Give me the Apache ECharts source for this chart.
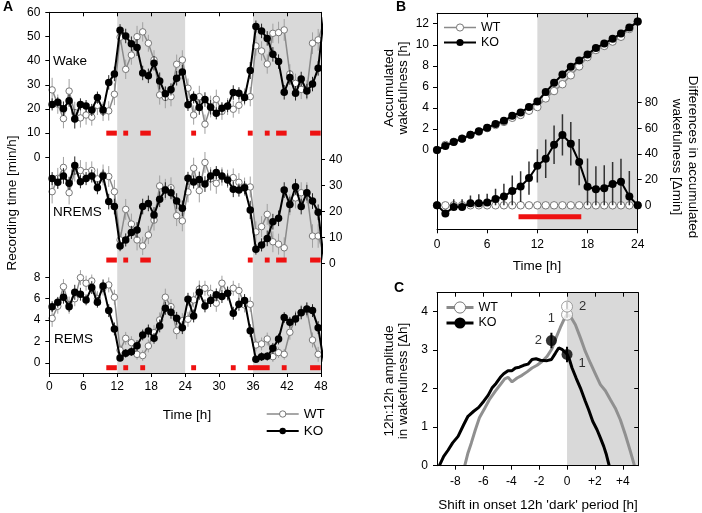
<!DOCTYPE html>
<html><head><meta charset="utf-8">
<script src="https://cdn.jsdelivr.net/npm/echarts@6/dist/echarts.min.js"></script>
<style>html,body{margin:0;padding:0;background:#fff}#c{width:702px;height:513px}</style>
</head><body><div id="c"></div>
<script>
// ---------- DATA ----------
// Panel A: hourly bins (bin centres), last bin lies beyond the 48 h edge
const hoursA = [0.5,1.5,2.5,3.5,4.5,5.5,6.5,7.5,8.5,9.5,10.5,11.5,12.5,13.5,14.5,15.5,16.5,17.5,18.5,19.5,20.5,21.5,22.5,23.5,24.5,25.5,26.5,27.5,28.5,29.5,30.5,31.5,32.5,33.5,34.5,35.5,36.5,37.5,38.5,39.5,40.5,41.5,42.5,43.5,44.5,45.5,46.5,47.5,48.5];
const wakeKO = [21.9,22.8,20.1,23.4,15.9,21.9,21.2,19.6,24.7,19.6,31.0,34.5,52.6,50.2,47.0,45.4,34.9,33.7,38.9,31.6,26.3,28.1,32.7,35.3,21.7,24.8,20.6,23.9,20.7,18.2,20.3,21.2,26.8,26.5,24.7,35.9,54.1,52.3,49.2,42.6,39.6,26.9,33.0,26.5,32.4,27.4,30.3,36.8,58];
const wakeWT = [27.9,22,16,27.4,18.5,16.3,17.5,16.6,21.5,19,19.2,26.1,49.7,36.4,42.3,49.9,51.9,47.2,40.3,25.8,24.8,25.1,38.5,40.3,28.6,17.5,25.1,13.7,21,24,19,21,19.9,21.5,25,25.1,46.1,44.0,38.6,51.3,51.6,52.7,34.5,30.6,28.1,27.9,47.2,48.6,56];
const nremKO = [32.6,31.2,33.6,30.8,37.6,31.4,32.6,33.6,29.1,33.6,23.8,21.9,6.8,9.1,12.0,12.9,21.9,23.1,18.7,24.7,28.2,27.2,24.0,21.2,32.7,31.3,32.3,30.5,33.6,34.9,33.6,32.1,28.5,28.2,29.1,20.6,5.5,7.2,9.7,16.1,17.4,28.2,22.7,29.5,21.9,27.2,24.0,19.7,1.5];
const nremWT = [27.6,32.7,36.9,27.2,35.5,35.7,35,35.7,32.5,34,33.4,27.6,9.1,20.8,15.2,9.1,6.8,11,16.7,29.8,28.5,29.1,18.4,16.4,27.5,36.6,28,38.8,32.5,30.8,33.4,32.5,33,31.2,29.5,29.4,12.2,14.2,18.9,8.4,7.5,6.1,22.6,25.2,27.2,27.2,10.6,10.6,3.5];
const remKO = [5.26,5.67,6.14,5.26,6.6,6.42,5.89,7.04,5.67,7.2,4.89,3.18,0.47,0.9,1.06,1.62,2.62,2.99,2.3,3.46,5.1,4.73,4.17,3.3,5.95,4.39,6.6,5.33,5.83,6.36,6.2,6.51,4.64,5.48,5.83,3.02,0.34,0.59,0.62,1.37,2.24,4.24,3.8,4.11,4.7,5.05,4.89,3.3,0.1];
const remWT = [4.17,5.3,7.13,5.4,6,7.97,7.45,7.66,6,7,7.29,6.14,1.2,2.3,1.9,0.81,0.69,1.59,2.83,4.02,6.14,5.26,3.02,3.95,4.08,5.89,6.9,6.98,6.51,5.58,7.45,6.5,6.98,6.76,5.42,5.48,1.68,1.78,2.24,0.59,0.97,0.81,2.87,4.17,4.73,4.95,2.15,0.81,0.5];
const errWakeKO = [2.5,2,3,2.5,4,2.5,2.5,2.5,2.5,2.5,3,3,2.5,3,3,3.5,3,3,3,3.5,3,2.5,3,3,2.5,2.5,3,3,3,2.5,2.5,2.5,3,2.5,2.5,3.5,2.5,3,3,3,3,3,3,3,3,3,3,3,3];
const errWakeWT = [5,4,4,5,4.5,4,4,3.5,4,4,4,4.5,3,4,4,4.5,4,3.5,4,4,4.5,4,4,4,4,4,4.5,4,4.5,4,3.5,3.5,3.5,3.5,3.5,4,4,4,4,4,4.5,4.5,4,4,4,4,4.5,4.5,4.5];
const errNremKO = [2.5,2.5,3,2.5,3.5,2.5,2.5,2.5,2.5,2.5,3,3,2,2.5,2.5,3,3,3,3,3,3,2.5,3,3,2.5,2.5,3,3,2.5,2.5,2.5,2.5,3,2.5,2.5,3.5,2,2.5,3,3,3,3,3,3,3,3,3,3,3];
const errNremWT = [4.5,4,4,4.5,4,4,4,3.5,4,4,4,4.5,3,4,4,4,3.5,3.5,4,4,4,4,4,4,4,4,4.5,4,4.5,4,3.5,3.5,3.5,3.5,3.5,4,4,4,4,4,4,4,4,4,4,4,4.5,4.5,4.5];
const errRemKO = [0.5,0.5,0.6,0.5,0.7,0.6,0.5,0.6,0.5,0.6,0.6,0.6,0.3,0.4,0.4,0.5,0.5,0.6,0.5,0.6,0.6,0.6,0.6,0.6,0.6,0.6,0.7,0.6,0.6,0.6,0.6,0.6,0.6,0.6,0.6,0.6,0.3,0.4,0.4,0.5,0.5,0.5,0.5,0.6,0.6,0.6,0.6,0.6,0.6];
const errRemWT = [0.8,0.7,0.7,0.8,0.7,0.7,0.7,0.6,0.7,0.7,0.7,0.7,0.5,0.6,0.6,0.5,0.5,0.6,0.7,0.7,0.8,0.7,0.8,0.7,0.7,0.7,0.8,0.7,0.8,0.8,0.7,0.7,0.7,0.7,0.7,0.7,0.6,0.6,0.6,0.5,0.5,0.5,0.7,0.7,0.7,0.7,0.7,0.7,0.7];
// significance bars [start h, end h]
const sigWake = [[10,12],[13,14],[16,18],[25,26],[35,36],[38,39],[40,42],[46,48]];
const sigNrem = [[10,12],[13,14],[16,18],[35,36],[38,39],[40,42],[46,48]];
const sigRem  = [[10,12],[13,14],[16,17],[25,26],[32,33],[35,39],[41,42],[46,48]];
const sigLevelWake = 10, sigLevelNrem = 1.4, sigLevelRem = -0.44;
const darkA = [[12,24],[36,48]];

// Panel B
const hoursB = [0,1,2,3,4,5,6,7,8,9,10,11,12,13,14,15,16,17,18,19,20,21,22,23,24];
const accKO = [0,0.38,0.76,1.07,1.45,1.77,2.12,2.46,2.78,3.25,3.57,4.08,4.61,5.50,6.38,7.17,7.90,8.50,9.07,9.70,10.11,10.58,11.06,11.63,12.2];
const accWT = [0,0.48,0.78,1.09,1.42,1.74,2.08,2.38,2.67,3.06,3.33,3.73,4.08,4.9,5.6,6.25,7.1,7.94,8.83,9.5,9.89,10.3,10.76,11.5,12.2];
const diffKO = [0,-6.3,-1.3,-1.3,1.6,1.6,2.1,5,6.8,11.2,14.6,21.2,30.8,36.3,47.3,54.9,48,33.7,14.4,12.5,13.3,16.7,18.3,6.8,0];
const diffErrKO = [0,5,6,6,6,7,7,8,10,12,12,13,13,15,15,16,17,18,22,18,18,17,18,20,0];
const diffWT = [0,0,0,0,0,0,0,0,0,0,0,0,0,0,0,0,0,0,0,0,0,0,0,0,0];
const sigB = [[9.7,17.3]];
const sigLevelB = -9;
const darkB = [[12,24]];

// Panel C: [shift h, amplitude Δh]
const curveKO = [[-9.15,0],[-8.84,0.24],[-8.53,0.40],[-8.20,0.59],[-7.81,0.76],[-7.41,1.06],[-7.10,1.28],[-6.69,1.41],[-6.33,1.51],[-5.97,1.67],[-5.66,1.82],[-5.38,2.01],[-5.09,2.13],[-4.78,2.29],[-4.54,2.38],[-4.23,2.46],[-3.94,2.46],[-3.70,2.53],[-3.42,2.55],[-3.11,2.60],[-2.80,2.63],[-2.51,2.75],[-2.22,2.77],[-1.91,2.73],[-1.43,2.72],[-1.12,2.75],[-0.84,2.91],[-0.60,3.05],[-0.36,3.01],[-0.17,2.95],[0,2.89],[0.17,2.75],[0.36,2.53],[0.65,2.27],[0.96,2.01],[1.31,1.67],[1.55,1.45],[1.84,1.15],[2.15,0.93],[2.39,0.72],[2.63,0.50],[2.80,0.31],[3.02,0]];
const curveWT = [[-7.33,0],[-7.10,0.33],[-6.86,0.59],[-6.57,0.93],[-6.28,1.24],[-5.90,1.49],[-5.57,1.71],[-5.14,1.93],[-4.78,2.10],[-4.47,2.25],[-4.23,2.29],[-3.94,2.17],[-3.58,2.27],[-3.23,2.34],[-2.87,2.43],[-2.51,2.53],[-2.15,2.60],[-1.79,2.70],[-1.43,2.83],[-1.08,3.03],[-0.79,3.31],[-0.48,3.58],[-0.19,3.81],[0,3.91],[0.24,3.87],[0.60,3.65],[0.96,3.31],[1.31,2.96],[1.67,2.66],[2.03,2.38],[2.39,2.10],[2.75,1.94],[3.11,1.71],[3.46,1.49],[3.82,1.19],[4.18,0.80],[4.54,0.37],[4.83,0]];
const ptsWT = [[0,3.91],[0,4.12]], ptsWTerr = [0.08,0.12], ptsWTlab = ['1','2'];
const ptsKO = [[-1.12,3.24],[0,2.88]], ptsKOerr = [0.2,0.2], ptsKOlab = ['2','1'];
const darkC = [[0,5.1]];
const ticksCx = [-8,-6,-4,-2,0,2,4];
const ticksCy = [0,1,2,3,4];

// ---------- STYLE ----------
const FONT = 'Liberation Sans, Arial, Helvetica, sans-serif';
const SHADE = '#d9d9d9', RED = '#ee1111', GRAY = '#8a8a8a';
const chart = echarts.init(document.getElementById('c'), null, {renderer:'canvas'});

const lbl = (extra) => Object.assign({color:'#000', fontSize:12, fontFamily:FONT}, extra||{});
const AL = {show:true, onZero:false, lineStyle:{color:'#000', width:1}};
const NOL = {show:false, onZero:false};
function axis(o) {
  return Object.assign({type:'value', splitLine:{show:false}, axisLine:NOL, axisTick:{show:false}, axisLabel:{show:false}}, o);
}
function hidden(grid, min, max) { return axis({gridIndex:grid, min:min, max:max, show:false}); }
const tickOut = (extra) => Object.assign({show:true, length:4, lineStyle:{color:'#000'}}, extra||{});
const tickIn = (extra) => Object.assign({show:true, inside:true, length:4, lineStyle:{color:'#000'}}, extra||{});

const grids = [
  {left:49.3, top:12.3, width:271.7, height:360.7},   // 0 A frame
  {left:49.3, top:12.3, width:271.7, height:145},     // 1 Wake
  {left:49.3, top:159.3, width:271.7, height:104.4},  // 2 NREMS axis
  {left:49.3, top:146.25, width:271.7, height:130.5}, // 3 NREMS data
  {left:49.3, top:277.3, width:271.7, height:85.7},   // 4 REMS axis
  {left:49.3, top:266.6, width:271.7, height:107.1},  // 5 REMS data
  {left:437, top:13.3, width:200.7, height:216},      // 6 B frame
  {left:437, top:23.7, width:200.7, height:126.3},    // 7 B accumulated
  {left:437, top:102.7, width:200.7, height:102.6},   // 8 B differences
  {left:437, top:292.7, width:201.2, height:173}      // 9 C
];

const xAxes = [
  axis({gridIndex:0, min:0, max:48, interval:6, position:'bottom', z:4, axisLine:AL, axisTick:tickOut(), axisLabel:lbl({show:true, margin:8})}),
  axis({gridIndex:0, min:0, max:48, interval:6, position:'top', z:4, axisLine:AL, axisTick:tickIn()}),
  hidden(1,0,48), hidden(2,0,48), hidden(3,0,48), hidden(4,0,48), hidden(5,0,48),
  axis({gridIndex:6, min:0, max:24, interval:6, position:'bottom', z:4, axisLine:AL, axisTick:tickOut(), axisLabel:lbl({show:true, margin:9})}),
  axis({gridIndex:6, min:0, max:24, interval:6, position:'top', z:4, axisLine:AL, axisTick:tickIn()}),
  hidden(7,0,24), hidden(8,0,24),
  axis({gridIndex:9, min:-9.32, max:5.1, position:'bottom', z:4, axisLine:AL,
        axisTick:tickOut({customValues:ticksCx}),
        axisLabel:lbl({show:true, margin:10, customValues:ticksCx, formatter:v => v>0 ? '+'+v : String(v)})}),
  axis({gridIndex:9, min:-9.32, max:5.1, position:'top', z:4, axisLine:AL, axisTick:tickIn({customValues:ticksCx})})
];
const yAxes = [
  axis({gridIndex:0, min:0, max:1, position:'left', z:4, axisLine:AL}),
  axis({gridIndex:0, min:0, max:1, position:'right', z:4, axisLine:AL}),
  axis({gridIndex:1, min:0, max:60, interval:10, position:'left', axisTick:tickOut(), axisLabel:lbl({show:true, margin:9})}),
  axis({gridIndex:2, min:0, max:40, interval:10, position:'right', axisTick:tickOut(), axisLabel:lbl({show:true, margin:8})}),
  hidden(3,-5,45),
  axis({gridIndex:4, min:0, max:8, interval:2, position:'left', axisTick:tickOut(), axisLabel:lbl({show:true, margin:9})}),
  hidden(5,-1,9),
  axis({gridIndex:6, min:0, max:1, position:'left', z:4, axisLine:AL}),
  axis({gridIndex:6, min:0, max:1, position:'right', z:4, axisLine:AL}),
  axis({gridIndex:7, min:0, max:12, interval:2, position:'left', axisTick:tickOut(), axisLabel:lbl({show:true, margin:8})}),
  axis({gridIndex:8, min:0, max:80, interval:20, position:'right', axisTick:tickOut(), axisLabel:lbl({show:true, margin:7})}),
  axis({gridIndex:9, min:0, max:4.48, position:'left', z:4, axisLine:AL,
        axisTick:tickOut({customValues:ticksCy}), axisLabel:lbl({show:true, margin:9, customValues:ticksCy})}),
  axis({gridIndex:9, min:0, max:4.48, position:'right', z:4, axisLine:AL, axisTick:tickIn({customValues:ticksCy})})
];

// ---------- SERIES BUILDERS ----------
function shade(xi, yi, ranges) {
  return {type:'line', xAxisIndex:xi, yAxisIndex:yi, data:[], symbol:'none', silent:true, z:0,
    markArea:{silent:true, itemStyle:{color:SHADE}, data:ranges.map(r => [{xAxis:r[0]}, {xAxis:r[1]}])}};
}
function pairs(xs, ys) { return xs.map((x,i) => [x, ys[i]]); }
function errBars(xi, yi, xs, ys, es, color, width, z) {
  return {type:'custom', xAxisIndex:xi, yAxisIndex:yi, clip:true, silent:true, z:z,
    data: xs.map((x,i) => [x, ys[i]-es[i], ys[i]+es[i]]),
    renderItem: (params, api) => {
      const a = api.coord([api.value(0), api.value(1)]), b = api.coord([api.value(0), api.value(2)]);
      return {type:'line', shape:{x1:a[0], y1:a[1], x2:b[0], y2:b[1]}, style:{stroke:color, lineWidth:width}};
    }};
}
function sigBars(xi, yi, segs, level, h) {
  return {type:'custom', xAxisIndex:xi, yAxisIndex:yi, silent:true, z:6,
    data: segs.map(s => [s[0], s[1], level]),
    renderItem: (params, api) => {
      const a = api.coord([api.value(0), api.value(2)]), b = api.coord([api.value(1), api.value(2)]);
      return {type:'rect', shape:{x:a[0]+0.4, y:a[1]-h/2, width:b[0]-a[0]-0.8, height:h}, style:{fill:RED}};
    }};
}
function wtLine(xi, yi, data, size, lw, z, clip) {
  return {name:'WT', type:'line', xAxisIndex:xi, yAxisIndex:yi, data:data, clip:clip, z:z,
    symbol:'circle', symbolSize:size, showAllSymbol:true,
    itemStyle:{color:'#fff', borderColor:'#777', borderWidth:1},
    lineStyle:{color:GRAY, width:lw}, emphasis:{disabled:true}};
}
function koLine(xi, yi, data, size, lw, z, clip) {
  return {name:'KO', type:'line', xAxisIndex:xi, yAxisIndex:yi, data:data, clip:clip, z:z,
    symbol:'circle', symbolSize:size, showAllSymbol:true,
    itemStyle:{color:'#000', borderColor:'#000', borderWidth:0},
    lineStyle:{color:'#000', width:lw}, emphasis:{disabled:true}};
}

const series = [
  shade(0,0,darkA), shade(7,7,darkB), shade(11,11,darkC),
  // A: Wake
  errBars(2,2,hoursA,wakeWT,errWakeWT,'#a0a0a0',1,2), wtLine(2,2,pairs(hoursA,wakeWT),6.5,1.5,3,true),
  errBars(2,2,hoursA,wakeKO,errWakeKO,'#222',1,4), koLine(2,2,pairs(hoursA,wakeKO),7.5,2,5,true),
  sigBars(2,2,sigWake,sigLevelWake,5),
  // A: NREMS
  errBars(4,4,hoursA,nremWT,errNremWT,'#a0a0a0',1,2), wtLine(4,4,pairs(hoursA,nremWT),6.5,1.5,3,true),
  errBars(4,4,hoursA,nremKO,errNremKO,'#222',1,4), koLine(4,4,pairs(hoursA,nremKO),7.5,2,5,true),
  sigBars(4,4,sigNrem,sigLevelNrem,5),
  // A: REMS
  errBars(6,6,hoursA,remWT,errRemWT,'#a0a0a0',1,2), wtLine(6,6,pairs(hoursA,remWT),6.5,1.5,3,true),
  errBars(6,6,hoursA,remKO,errRemKO,'#222',1,4), koLine(6,6,pairs(hoursA,remKO),7.5,2,5,true),
  sigBars(6,6,sigRem,sigLevelRem,5),
  // B: accumulated wakefulness
  wtLine(9,9,pairs(hoursB,accWT),7.5,1.5,3,false), koLine(9,9,pairs(hoursB,accKO),8,2,5,false),
  // B: differences
  wtLine(10,10,pairs(hoursB,diffWT),7.5,1.5,3,false),
  errBars(10,10,hoursB,diffKO,diffErrKO,'#333',1.5,4),
  koLine(10,10,pairs(hoursB,diffKO),8,2,5,false),
  sigBars(10,10,sigB,sigLevelB,5),
  // C: amplitude curves
  {name:'WT', type:'line', xAxisIndex:11, yAxisIndex:11, data:curveWT, symbol:'none', z:3, lineStyle:{color:'#909090', width:3}, emphasis:{disabled:true}},
  {name:'KO', type:'line', xAxisIndex:11, yAxisIndex:11, data:curveKO, symbol:'none', z:4, lineStyle:{color:'#000', width:3}, emphasis:{disabled:true}},
  errBars(11,11,ptsWT.map(p=>p[0]),ptsWT.map(p=>p[1]),ptsWTerr,'#000',2,5),
  errBars(11,11,ptsKO.map(p=>p[0]),ptsKO.map(p=>p[1]),ptsKOerr,'#000',2,5),
  {type:'scatter', xAxisIndex:11, yAxisIndex:11, z:6, symbolSize:11, silent:true,
    itemStyle:{color:'#fff', borderColor:'#888', borderWidth:1},
    data: ptsWT.map((p,i) => ({value:p, name:ptsWTlab[i]})),
    label:{show:true, formatter:'{b}', fontSize:13, fontFamily:FONT, color:'#000', position:'left', distance:4}},
  {type:'scatter', xAxisIndex:11, yAxisIndex:11, z:6, symbolSize:11, silent:true,
    itemStyle:{color:'#000'},
    data: ptsKO.map((p,i) => ({value:p, name:ptsKOlab[i]})),
    label:{show:true, formatter:'{b}', fontSize:13, fontFamily:FONT, color:'#000', position:'left', distance:4}}
];
// per-point label placement for panel C
series[series.length-2].data[0].label = {position:'left', offset:[-2,4]};
series[series.length-2].data[1].label = {position:'right', offset:[2,0]};
series[series.length-1].data[0].label = {position:'left', offset:[0,0]};
series[series.length-1].data[1].label = {position:'right', offset:[2,9]};

function legendCfg(left, top, iw, ih, gap, fs, lwWT, lwKO) {
  return {left:left, top:top, orient:'vertical', itemWidth:iw, itemHeight:ih, itemGap:gap, selectedMode:false,
    textStyle:{fontSize:fs, fontFamily:FONT, color:'#000'}, padding:0,
    data:[{name:'WT', itemStyle:{color:'#fff', borderColor:'#777', borderWidth:1}, lineStyle:{color:GRAY, width:lwWT}},
          {name:'KO', itemStyle:{color:'#000', borderWidth:0}, lineStyle:{color:'#000', width:lwKO}}]};
}

const T = (text, x, y, size, extra) => Object.assign({type:'text', x:x, y:y, silent:true,
  style:{text:text, font:size+'px '+FONT, fill:'#000', textAlign:'center', textVerticalAlign:'middle'}}, extra||{});
const B = (text, x, y) => ({type:'text', x:x, y:y, silent:true, style:{text:text, font:'bold 14px '+FONT, fill:'#000', textAlign:'center', textVerticalAlign:'middle'}});
const graphics = [
  B('A', 8, 7), B('B', 401, 7), B('C', 399, 288),
  {type:'text', x:53, y:61, silent:true, style:{text:'Wake', font:'13.5px '+FONT, fill:'#000', textVerticalAlign:'middle'}},
  {type:'text', x:53, y:212, silent:true, style:{text:'NREMS', font:'13.5px '+FONT, fill:'#000', textVerticalAlign:'middle'}},
  {type:'text', x:54, y:339, silent:true, style:{text:'REMS', font:'13.5px '+FONT, fill:'#000', textVerticalAlign:'middle'}},
  T('Recording time [min/h]', 12, 203, 13.5, {rotation:Math.PI/2}),
  T('Time [h]', 187, 415, 13.5),
  T('Time [h]', 537, 266, 13.5),
  {type:'text', x:396, y:88, rotation:Math.PI/2, silent:true, style:{text:'Accumulated\nwakefulness [h]', font:'13.5px '+FONT, lineHeight:14, fill:'#000', textAlign:'center', textVerticalAlign:'middle'}},
  {type:'text', x:685, y:157, rotation:-Math.PI/2, silent:true, style:{text:'Differences in accumulated\nwakefulness [\u0394min]', font:'13.5px '+FONT, lineHeight:16, fill:'#000', textAlign:'center', textVerticalAlign:'middle'}},
  {type:'text', x:396, y:381, rotation:Math.PI/2, silent:true, style:{text:'12h:12h amplitude\nin wakefulness [\u0394h]', font:'13.5px '+FONT, lineHeight:14, fill:'#000', textAlign:'center', textVerticalAlign:'middle'}},
  T("Shift in onset 12h 'dark' period [h]", 538, 505, 13.5)
];

chart.setOption({
  animation:false,
  grid:grids, xAxis:xAxes, yAxis:yAxes, series:series,
  legend:[
    legendCfg(265.7, 407, 32, 8, 3, 13.5, 1.5, 2),
    legendCfg(443, 21, 32, 9, 2, 12.5, 1.5, 2),
    legendCfg(445, 301, 27, 14, 2.5, 12.5, 3, 3)
  ],
  graphic:graphics
});
</script></body></html>
